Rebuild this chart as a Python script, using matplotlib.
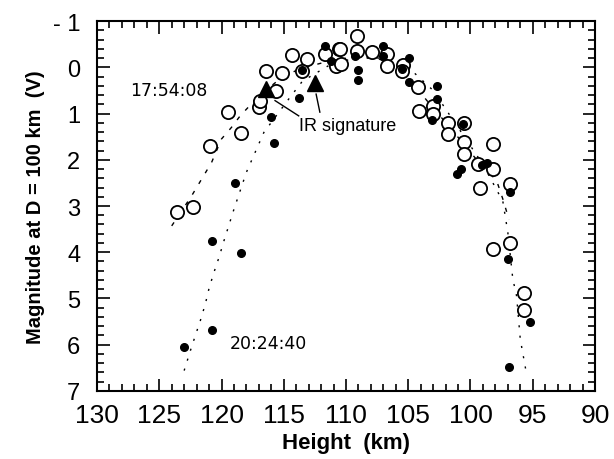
import matplotlib
matplotlib.use("Agg")
import matplotlib.pyplot as plt
from matplotlib.ticker import MultipleLocator, FixedLocator

plt.rcParams['font.family'] = ['Liberation Sans', 'DejaVu Sans']

# 17:54:08 event (open circles)
open_h = [123.6, 122.3, 120.9, 119.5, 118.4, 117.0, 116.9, 115.6, 116.4, 115.1,
          114.3, 113.1, 113.5, 111.7, 110.6, 110.8, 109.1, 110.5, 110.4, 109.1,
          107.9, 106.7, 106.7, 105.4, 105.5, 104.2, 104.1, 103.0, 103.0, 101.8,
          101.8, 100.5, 100.5, 100.5, 99.4, 98.2, 98.2, 99.2, 96.8, 98.2,
          96.8, 95.7, 95.7]
open_m = [3.12, 3.03, 1.70, 0.97, 1.43, 0.85, 0.72, 0.51, 0.07, 0.12,
          -0.26, -0.19, 0.07, -0.29, -0.39, -0.03, -0.68, -0.39, -0.07, -0.36,
          -0.34, -0.29, -0.03, -0.05, 0.07, 0.43, 0.94, 0.83, 1.01, 1.21,
          1.44, 1.21, 1.61, 1.88, 2.09, 1.66, 2.21, 2.62, 2.52, 3.94,
          3.81, 4.89, 5.25]

# 20:24:40 event (filled dots)
fill_h = [123.0, 120.8, 120.8, 118.4, 118.9, 115.8, 116.0, 113.8, 113.5, 111.2,
          111.7, 107.0, 107.0, 104.9, 109.3, 109.0, 109.0, 104.9, 105.5, 102.7,
          102.7, 103.1, 100.6, 101.1, 100.8, 98.7, 99.1, 96.8, 97.0, 95.2,
          96.9]
fill_m = [6.04, 5.68, 3.75, 4.02, 2.51, 1.64, 1.08, 0.66, 0.05, -0.14,
          -0.47, -0.47, -0.25, -0.21, -0.25, 0.05, 0.27, 0.31, 0.04, 0.41,
          0.69, 1.13, 1.23, 2.31, 2.20, 2.06, 2.11, 2.69, 4.15, 5.51,
          6.49]

# IR signature (triangles)
ir_h = [116.4, 112.5]
ir_m = [0.47, 0.33]

# fitted light curves
fit_open_h = [124.0, 122.4, 121.6, 120.8, 120.0, 119.2, 118.5, 117.0, 115.3, 113.8,
              111.3, 109.5, 107.5, 105.5, 103.5, 101.5, 99.5, 97.9, 97.4, 96.9]
fit_open_m = [3.43, 2.78, 2.42, 2.06, 1.55, 1.30, 1.05, 0.62, 0.25, 0.04,
              -0.14, -0.22, -0.20, 0.05, 0.72, 1.35, 2.0, 2.45, 2.85, 3.3]

fit_fill_h = [123.0, 122.5, 122.1, 121.7, 121.3, 121.0, 120.6, 120.2, 119.8, 119.4,
              119.0, 118.0, 116.6, 114.5, 113.5, 111.0, 109.0, 107.0, 105.0, 103.0,
              101.0, 99.0, 97.4, 97.0, 96.6, 96.3, 96.0, 95.5]
fit_fill_m = [6.56, 6.13, 5.80, 5.48, 5.12, 4.78, 4.43, 4.11, 3.75, 3.41,
              3.07, 2.27, 1.41, 0.65, 0.30, -0.10, -0.20, -0.20, 0.0, 0.5,
              1.3, 2.1, 2.9, 3.57, 4.58, 4.94, 5.88, 6.63]

x_ticks = [130, 125, 120, 115, 110, 105, 100, 95, 90]
x_ticklabels = ["130", "125", "120", "115", "110", "105", "100", "95", "90"]
y_ticks = [-1, 0, 1, 2, 3, 4, 5, 6, 7]
y_ticklabels = ["- 1", "0", "1", "2", "3", "4", "5", "6", "7"]

fig = plt.figure(figsize=(6.14, 4.60), dpi=100)
ax = fig.add_axes([0.158, 0.148, 0.811, 0.804])

ax.plot(fit_open_h, fit_open_m, linestyle=(0, (3, 6)), color='black', lw=1.0)
ax.plot(fit_fill_h, fit_fill_m, linestyle=(0, (1.5, 6)), color='black', lw=1.0)

ax.plot(open_h, open_m, 'o', mfc='white', mec='black', mew=1.3, ms=9.5, ls='none')
ax.plot(fill_h, fill_m, 'o', mfc='black', mec='black', ms=5.5, ls='none')
ax.plot(ir_h, ir_m, '^', mfc='black', mec='black', ms=11, ls='none')

# IR signature annotation
ax.text(113.8, 1.25, "IR signature", fontsize=13, ha='left', va='center')
ax.plot([115.7, 113.8], [0.72, 1.05], color='black', lw=1.0)
ax.plot([112.4, 112.1], [0.58, 0.97], color='black', lw=1.0)

ax.text(127.3, 0.5, "17:54:08", fontsize=12.5, ha='left', va='center',
        family=['DejaVu Sans'])
ax.text(119.3, 5.96, "20:24:40", fontsize=12.5, ha='left', va='center',
        family=['DejaVu Sans'])

ax.set_xlim(130, 90)
ax.set_ylim(7, -1)
ax.xaxis.set_major_locator(FixedLocator(x_ticks))
ax.set_xticklabels(x_ticklabels)
ax.xaxis.set_minor_locator(MultipleLocator(1))
ax.yaxis.set_major_locator(FixedLocator(y_ticks))
ax.set_yticklabels(y_ticklabels)
ax.yaxis.set_minor_locator(MultipleLocator(0.2))

ax.tick_params(which='both', direction='in', top=True, right=True, width=1.2)
ax.tick_params(which='major', length=9)
ax.tick_params(which='minor', length=5)
ax.tick_params(axis='x', labelsize=19, pad=9)
ax.tick_params(axis='y', labelsize=17, pad=12)
for s in ax.spines.values():
    s.set_linewidth(1.5)

ax.set_xlabel("Height  (km)", fontsize=16, fontweight='bold', labelpad=3)
ax.set_ylabel("Magnitude at D = 100 km  (V)", fontsize=14.5, fontweight='bold', labelpad=6)

fig.savefig("out.png", dpi=100, facecolor='white')
